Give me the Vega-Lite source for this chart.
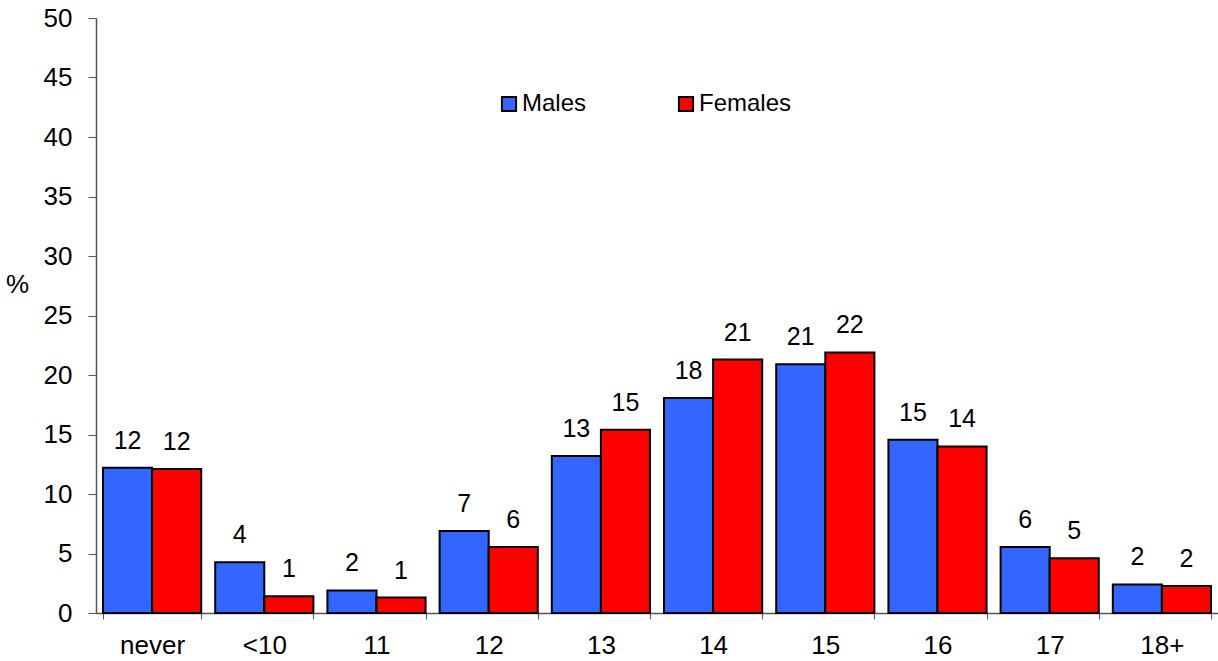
{
  "$schema": "https://vega.github.io/schema/vega-lite/v6.json",
  "width": 1122,
  "height": 595,
  "autosize": "none",
  "padding": {"left": 96, "top": 18, "right": 0, "bottom": 48},
  "background": "white",
  "config": {
    "view": {"stroke": null},
    "font": "Liberation Sans"
  },
  "data": {
    "values": [
      {"age": "never", "sex": "Males", "value": 12.2},
      {"age": "never", "sex": "Females", "value": 12.1},
      {"age": "<10", "sex": "Males", "value": 4.26},
      {"age": "<10", "sex": "Females", "value": 1.4},
      {"age": "11", "sex": "Males", "value": 1.9},
      {"age": "11", "sex": "Females", "value": 1.3},
      {"age": "12", "sex": "Males", "value": 6.9},
      {"age": "12", "sex": "Females", "value": 5.55},
      {"age": "13", "sex": "Males", "value": 13.2},
      {"age": "13", "sex": "Females", "value": 15.4},
      {"age": "14", "sex": "Males", "value": 18.07},
      {"age": "14", "sex": "Females", "value": 21.3},
      {"age": "15", "sex": "Males", "value": 20.9},
      {"age": "15", "sex": "Females", "value": 21.9},
      {"age": "16", "sex": "Males", "value": 14.55},
      {"age": "16", "sex": "Females", "value": 14.0},
      {"age": "17", "sex": "Males", "value": 5.55},
      {"age": "17", "sex": "Females", "value": 4.6},
      {"age": "18+", "sex": "Males", "value": 2.4},
      {"age": "18+", "sex": "Females", "value": 2.27}
    ]
  },
  "encoding": {
    "x": {
      "field": "age",
      "type": "nominal",
      "sort": ["never", "<10", "11", "12", "13", "14", "15", "16", "17", "18+"],
      "scale": {"paddingInner": 0.125, "paddingOuter": 0.0625},
      "axis": {
        "title": null,
        "labelAngle": 0,
        "labelFontSize": 26,
        "labelColor": "black",
        "labelPadding": 13,
        "tickBand": "extent",
        "tickSize": 6,
        "tickColor": "#555555",
        "domainColor": "#555555",
        "domainWidth": 1.5,
        "labelFont": "Liberation Sans"
      }
    },
    "xOffset": {
      "field": "sex",
      "type": "nominal",
      "sort": ["Males", "Females"],
      "scale": {"paddingInner": 0, "paddingOuter": 0}
    },
    "y": {
      "field": "value",
      "type": "quantitative",
      "scale": {"domain": [0, 50], "nice": false},
      "axis": {
        "values": [0, 5, 10, 15, 20, 25, 30, 35, 40, 45, 50],
        "grid": false,
        "title": "%",
        "titleAngle": 0,
        "titleFontSize": 26,
        "titleFontWeight": "normal",
        "titleColor": "black",
        "titleAlign": "center",
        "titleBaseline": "middle",
        "titleX": -79,
        "titleY": 266,
        "labelFontSize": 26,
        "labelColor": "black",
        "labelPadding": 16,
        "tickSize": 8,
        "tickColor": "#555555",
        "domainColor": "#555555",
        "domainWidth": 1.5
      }
    }
  },
  "layer": [
    {
      "mark": {"type": "bar", "stroke": "black", "strokeWidth": 2},
      "encoding": {
        "color": {
          "field": "sex",
          "type": "nominal",
          "sort": ["Males", "Females"],
          "scale": {"domain": ["Males", "Females"], "range": ["#3366FF", "#FF0000"]},
          "legend": {
            "title": null,
            "orient": "none",
            "legendX": 401,
            "legendY": 74,
            "direction": "horizontal",
            "columns": 2,
            "columnPadding": 87,
            "padding": 0,
            "symbolType": "square",
            "symbolSize": 200,
            "symbolStrokeColor": "black",
            "symbolStrokeWidth": 2,
            "symbolOpacity": 1,
            "labelFontSize": 24,
            "labelColor": "black",
            "labelOffset": 1
          }
        }
      }
    },
    {
      "mark": {"type": "text", "fontSize": 25, "color": "black", "baseline": "alphabetic", "dy": -19},
      "encoding": {
        "text": {"field": "value", "type": "quantitative", "format": ".0f"}
      }
    }
  ]
}
